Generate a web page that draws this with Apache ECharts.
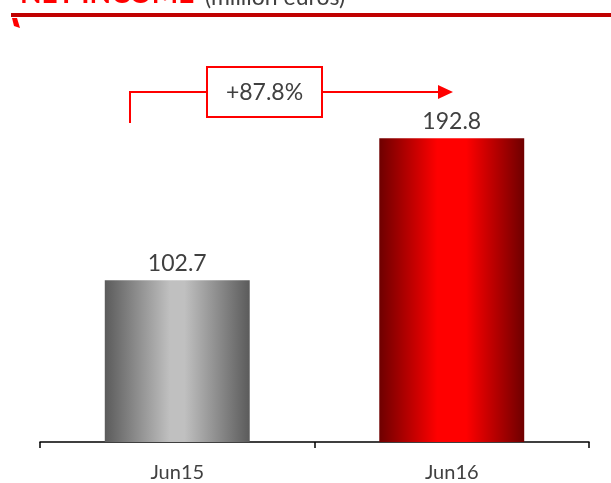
<!DOCTYPE html>
<html><head><meta charset="utf-8">
<script src="https://cdn.jsdelivr.net/npm/echarts@6/dist/echarts.min.js"></script>
<style>html,body{margin:0;padding:0;background:#fff}#c{width:611px;height:483px}</style>
</head><body><div id="c"></div>
<script>
const categories = ['Jun15', 'Jun16'];
const netIncome = [102.7, 192.8];
const changeLabel = '+87.8%';
const titleMain = 'NET INCOME';
const titleSub = '(million euros)';

const grayGrad = new echarts.graphic.LinearGradient(0,0,1,0,[
  {offset:0,color:'#5b5b5b'},{offset:0.45,color:'#c0c0c0'},{offset:0.55,color:'#c0c0c0'},{offset:1,color:'#5b5b5b'}]);
const redGrad = new echarts.graphic.LinearGradient(0,0,1,0,[
  {offset:0,color:'#6e0000'},{offset:0.4,color:'#ff0000'},{offset:0.6,color:'#ff0000'},{offset:1,color:'#6e0000'}]);
const fills = [grayGrad, redGrad];

const chart = echarts.init(document.getElementById('c'));
const font = 'Lato, "Open Sans", sans-serif';
chart.setOption({
  animation:false,
  grid:{left:40,right:22,top:127,bottom:40},
  xAxis:{type:'category',data:categories,
    axisLine:{lineStyle:{color:'#000',width:1.5}},
    axisTick:{show:true,length:6,lineStyle:{color:'#000',width:1.5}},
    axisLabel:{color:'#404040',fontSize:20,fontFamily:font,margin:21}},
  yAxis:{type:'value',min:0,max:200,show:false,splitLine:{show:false}},
  series:[{type:'bar',barWidth:'52.8%',
    data:netIncome.map((v,i)=>({value:v,itemStyle:{color:fills[i]}})),
    label:{show:true,position:'top',distance:5,color:'#404040',fontSize:23,fontFamily:font,
      formatter:p=>p.value.toFixed(1)}}],
  graphic:[
    {type:'text',x:20,y:8,style:{text:titleMain,fill:'#ff0000',font:'bold 28px '+font,verticalAlign:'bottom'}},
    {type:'text',x:205,y:9,style:{text:titleSub,fill:'#404040',font:'23px '+font,verticalAlign:'bottom'}},
    {type:'rect',shape:{x:11,y:13,width:600,height:4},style:{fill:'#c00000'}},
    {type:'polygon',shape:{points:[[12,18],[17,18],[20,28],[14,26]]},style:{fill:'#ff0000'}},
    {type:'polyline',shape:{points:[[130,123],[130,92],[207,92]]},style:{stroke:'#ff0000',lineWidth:2,fill:null}},
    {type:'line',shape:{x1:322,y1:92,x2:440,y2:92},style:{stroke:'#ff0000',lineWidth:2}},
    {type:'polygon',shape:{points:[[438,85],[453,92],[438,99]]},style:{fill:'#ff0000'}},
    {type:'rect',shape:{x:207,y:67,width:115,height:50},style:{fill:'#fff',stroke:'#ff0000',lineWidth:2}},
    {type:'text',x:264.5,y:93,style:{text:changeLabel,fill:'#404040',font:'23px '+font,align:'center',verticalAlign:'middle'}}
  ]
});
</script></body></html>
